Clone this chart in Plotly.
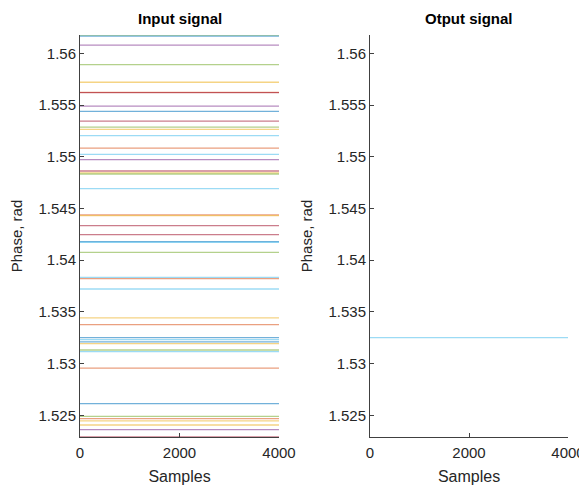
import plotly.graph_objects as go

# ---- data ----
samples = [0, 4000]
input_phases = [
    1.56177, 1.56167, 1.56080, 1.55891, 1.55720, 1.55623, 1.55619,
    1.55490, 1.55439, 1.55345, 1.55287, 1.55265, 1.55204, 1.55084,
    1.55023, 1.54972, 1.54862, 1.54843, 1.54833, 1.54692, 1.54437,
    1.54430, 1.54334, 1.54247, 1.54179, 1.54172, 1.54076, 1.53834,
    1.53821, 1.53721, 1.53441, 1.53377, 1.53251, 1.53232, 1.53209,
    1.53193, 1.53131, 1.53116, 1.52955, 1.52613, 1.52490, 1.52468,
    1.52445, 1.52406, 1.52362, 1.52290,
]
output_phase = [1.53251]
x_ticks = [0, 2000, 4000]
y_ticks = [1.525, 1.53, 1.535, 1.54, 1.545, 1.55, 1.555, 1.56]
y_tick_labels = ["1.525", "1.53", "1.535", "1.54", "1.545", "1.55", "1.555", "1.56"]

# ---- styles ----
palette = ["#0072BD", "#D95319", "#EDB120", "#7E2F8E", "#77AC30", "#4DBEEE", "#A2142F"]
input_color_idx = [
    4, 0, 3, 4, 2, 1, 6,
    3, 0, 6, 4, 2, 5, 1,
    5, 3, 6, 2, 4, 5, 1,
    2, 6, 6, 0, 5, 4, 5,
    1, 5, 2, 1, 0, 5, 0,
    2, 4, 5, 1, 0, 4, 1,
    2, 2, 3, 6,
]

fig = go.Figure()
for v, ci in zip(input_phases, input_color_idx):
    fig.add_trace(go.Scatter(
        x=samples, y=[v, v], mode="lines",
        line=dict(color=palette[ci], width=1.3), opacity=0.55,
        showlegend=False, xaxis="x", yaxis="y", hoverinfo="skip"))
for v in output_phase:
    fig.add_trace(go.Scatter(
        x=samples, y=[v, v], mode="lines",
        line=dict(color=palette[5], width=1.3), opacity=0.55,
        showlegend=False, xaxis="x2", yaxis="y2", hoverinfo="skip"))

# page body has an 8px default margin; size the figure to fill the window
OFF = 8
W, H = 587 - OFF, 486 - OFF


def px_x(x):
    return (x - OFF) / W


def px_y(y):
    return (H - (y - OFF)) / H


font_fam = "Liberation Sans, Arial, sans-serif"
axcol = "#404040"
yr = [min(input_phases), max(input_phases)]

common_x = dict(range=[0, 4000], tickvals=x_ticks, ticks="inside", ticklen=4,
                tickcolor=axcol, showline=True, linecolor=axcol, linewidth=1,
                showgrid=False, zeroline=False, automargin=False,
                ticklabelstandoff=2,
                tickfont=dict(size=15, color="#262626", family=font_fam),
                title=dict(text="Samples", standoff=10,
                           font=dict(size=16, color="#262626", family=font_fam)))
common_y = dict(range=yr, tickvals=y_ticks, ticktext=y_tick_labels,
                ticks="inside", ticklen=4, tickcolor=axcol, showline=True,
                linecolor=axcol, linewidth=1, showgrid=False, zeroline=False,
                automargin=False,
                tickfont=dict(size=15, color="#262626", family=font_fam),
                title=dict(text="Phase, rad", standoff=12,
                           font=dict(size=15, color="#262626", family=font_fam)))

fig.update_layout(
    width=W, height=H,
    margin=dict(l=0, r=0, t=0, b=0, autoexpand=False),
    paper_bgcolor="white", plot_bgcolor="white",
    font=dict(family=font_fam),
    xaxis=dict(domain=[px_x(80), px_x(279)], anchor="y", **common_x),
    yaxis=dict(domain=[px_y(437), px_y(35)], anchor="x", **common_y),
    xaxis2=dict(domain=[px_x(370), px_x(568)], anchor="y2", **common_x),
    yaxis2=dict(domain=[px_y(437), px_y(35)], anchor="x2", **common_y),
    annotations=[
        dict(text="<b>Input signal</b>", x=px_x((80 + 279) / 2), y=px_y(18),
             xref="paper", yref="paper", xanchor="center", yanchor="middle",
             showarrow=False,
             font=dict(size=15, color="#000000", family=font_fam)),
        dict(text="<b>Otput signal</b>", x=px_x((370 + 568) / 2), y=px_y(18),
             xref="paper", yref="paper", xanchor="center", yanchor="middle",
             showarrow=False,
             font=dict(size=15, color="#000000", family=font_fam)),
    ],
)

fig.write_html("out.html")
